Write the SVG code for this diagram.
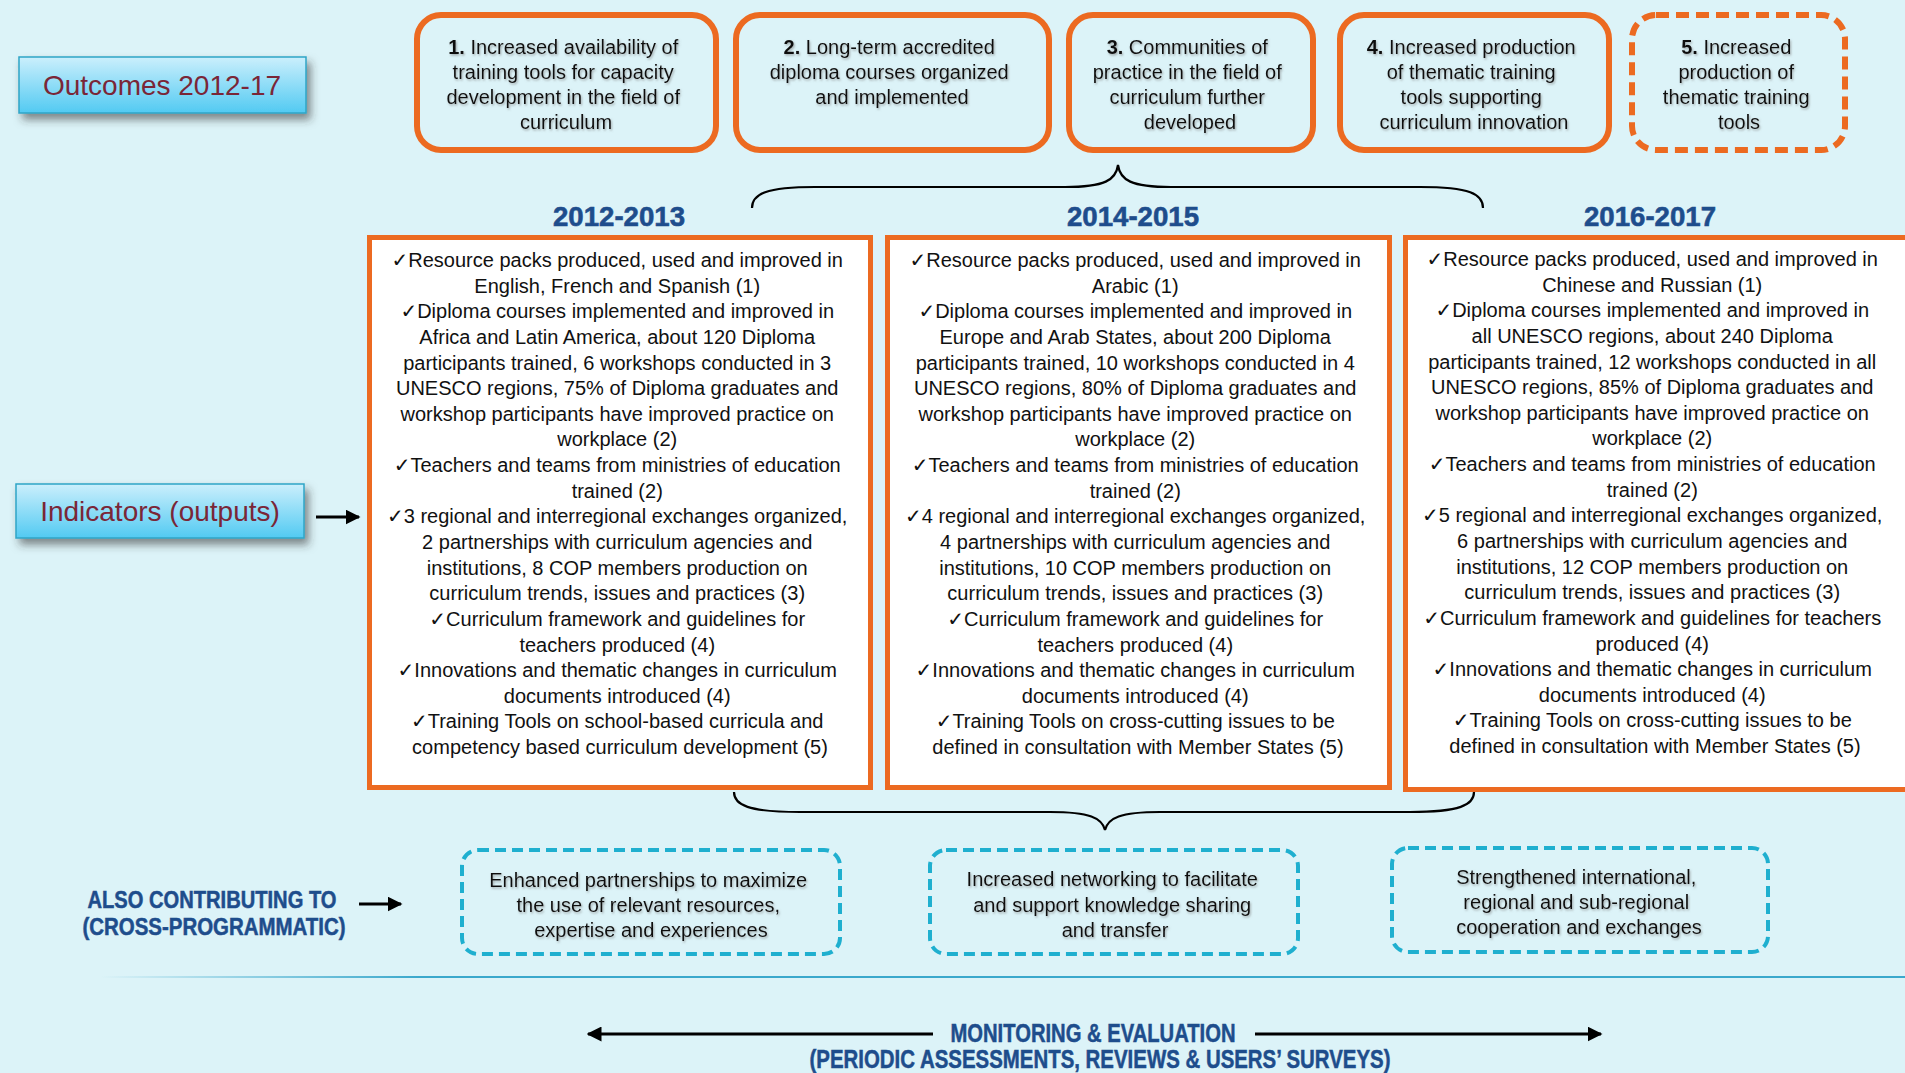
<svg xmlns="http://www.w3.org/2000/svg" width="1905" height="1073" viewBox="0 0 1905 1073">
<defs>
<style>
.bg{fill:#DCF3F8}
.lbl{fill:url(#lblGrad);stroke:#2FA5C6;stroke-width:1.5}
.lbltxt{font-family:"Liberation Sans",Arial,sans-serif;font-size:28px;fill:#7A2637;text-anchor:middle}
.out{fill:#DCF3F8;stroke:#EC6A21;stroke-width:6}
.outd{fill:#DCF3F8;stroke:#EC6A21;stroke-width:6;stroke-dasharray:13 7}
.otxt{font-family:"Liberation Sans",Arial,sans-serif;font-size:20px;fill:#111;text-anchor:middle}
.ind{fill:#FFFFFF;stroke:#EC6A21;stroke-width:5}
.itxt{font-family:"Liberation Sans","DejaVu Sans",Arial,sans-serif;font-size:20px;fill:#111;text-anchor:middle}
.year{font-family:"Liberation Sans",Arial,sans-serif;font-weight:bold;font-size:28px;fill:#1E4D8C;stroke:#1E4D8C;stroke-width:0.6;text-anchor:middle}
.head{font-family:"Liberation Sans",Arial,sans-serif;font-weight:bold;fill:#1E4D8C;stroke:#1E4D8C;stroke-width:0.5;text-anchor:middle}
.cross{fill:none;stroke:#1FAFCF;stroke-width:4;stroke-dasharray:11 6}
.ctxt{font-family:"Liberation Sans",Arial,sans-serif;font-size:20px;fill:#111;text-anchor:middle}
.brace{fill:none;stroke:#000;stroke-width:2.2}
.arr{fill:none;stroke:#000;stroke-width:3}
</style>
<linearGradient id="lblGrad" x1="0" y1="0" x2="0" y2="1">
<stop offset="0" stop-color="#CBEFFC"/>
<stop offset="1" stop-color="#52CAF2"/>
</linearGradient>
<linearGradient id="sepGrad" gradientUnits="userSpaceOnUse" x1="100" y1="0" x2="420" y2="0">
<stop offset="0" stop-color="#3BA8CC" stop-opacity="0"/>
<stop offset="1" stop-color="#3BA8CC" stop-opacity="1"/>
</linearGradient>
<filter id="shadow" x="-10%" y="-20%" width="125%" height="160%">
<feDropShadow dx="4" dy="6" stdDeviation="4" flood-color="#333" flood-opacity="0.55"/>
</filter>
<filter id="tshadow" x="-5%" y="-20%" width="110%" height="150%">
<feDropShadow dx="1" dy="1.5" stdDeviation="0.8" flood-color="#777" flood-opacity="0.6"/>
</filter>
<marker id="ah" viewBox="0 0 10 10" refX="9" refY="5" markerWidth="5" markerHeight="5" orient="auto-start-reverse" markerUnits="strokeWidth">
<path d="M0,0 L10,5 L0,10 z" fill="#000"/>
</marker>
</defs>

<rect class="bg" x="0" y="0" width="1905" height="1073"/>

<g id="label-outcomes">
<rect class="lbl" x="19" y="57" width="287" height="56" filter="url(#shadow)"/>
<text class="lbltxt" x="162" y="95">Outcomes 2012-17</text>
</g>

<g id="label-indicators">
<rect class="lbl" x="16" y="484" width="288" height="54" filter="url(#shadow)"/>
<text class="lbltxt" x="160" y="521">Indicators (outputs)</text>
</g>

<g id="outcome-1">
<rect class="out" x="417" y="15" width="299" height="135" rx="24"/>
<text class="otxt" filter="url(#tshadow)">
<tspan x="566" y="54"><tspan font-weight="bold">1.</tspan> Increased availability of</tspan>
<tspan x="566" y="79">training tools for capacity</tspan>
<tspan x="566" y="104">development in the field of</tspan>
<tspan x="566" y="129">curriculum</tspan>
</text>
</g>

<g id="outcome-2">
<rect class="out" x="736" y="15" width="313" height="135" rx="24"/>
<text class="otxt" filter="url(#tshadow)">
<tspan x="892" y="54"><tspan font-weight="bold">2.</tspan> Long-term accredited</tspan>
<tspan x="892" y="79">diploma courses organized</tspan>
<tspan x="892" y="104">and implemented</tspan>
</text>
</g>

<g id="outcome-3">
<rect class="out" x="1069" y="15" width="244" height="135" rx="24"/>
<text class="otxt" filter="url(#tshadow)">
<tspan x="1190" y="54"><tspan font-weight="bold">3.</tspan> Communities of</tspan>
<tspan x="1190" y="79">practice in the field of</tspan>
<tspan x="1190" y="104">curriculum further</tspan>
<tspan x="1190" y="129">developed</tspan>
</text>
</g>

<g id="outcome-4">
<rect class="out" x="1340" y="15" width="269" height="135" rx="24"/>
<text class="otxt" filter="url(#tshadow)">
<tspan x="1474" y="54"><tspan font-weight="bold">4.</tspan> Increased production</tspan>
<tspan x="1474" y="79">of thematic training</tspan>
<tspan x="1474" y="104">tools supporting</tspan>
<tspan x="1474" y="129">curriculum innovation</tspan>
</text>
</g>

<g id="outcome-5">
<rect class="outd" x="1632" y="15" width="213" height="135" rx="24"/>
<text class="otxt" filter="url(#tshadow)">
<tspan x="1739" y="54"><tspan font-weight="bold">5.</tspan> Increased</tspan>
<tspan x="1739" y="79">production of</tspan>
<tspan x="1739" y="104">thematic training</tspan>
<tspan x="1739" y="129">tools</tspan>
</text>
</g>

<g id="year-2012-2013">
<text class="year" x="619" y="226" textLength="132" lengthAdjust="spacingAndGlyphs">2012-2013</text>
</g>
<g id="year-2014-2015">
<text class="year" x="1133" y="226" textLength="132" lengthAdjust="spacingAndGlyphs">2014-2015</text>
</g>
<g id="year-2016-2017">
<text class="year" x="1650" y="226" textLength="132" lengthAdjust="spacingAndGlyphs">2016-2017</text>
</g>

<g id="indicators-2012-2013">
<rect class="ind" x="369.5" y="237.5" width="501" height="550"/>
<text class="itxt">
<tspan x="620" y="267">✓Resource packs produced, used and improved in</tspan>
<tspan x="620" y="292.6">English, French and Spanish (1)</tspan>
<tspan x="620" y="318.3">✓Diploma courses implemented and improved in</tspan>
<tspan x="620" y="343.9">Africa and Latin America, about 120 Diploma</tspan>
<tspan x="620" y="369.5">participants trained, 6 workshops conducted in 3</tspan>
<tspan x="620" y="395.2">UNESCO regions, 75% of Diploma graduates and</tspan>
<tspan x="620" y="420.8">workshop participants have improved practice on</tspan>
<tspan x="620" y="446.4">workplace (2)</tspan>
<tspan x="620" y="472">✓Teachers and teams from ministries of education</tspan>
<tspan x="620" y="497.7">trained (2)</tspan>
<tspan x="620" y="523.3">✓3 regional and interregional exchanges organized,</tspan>
<tspan x="620" y="548.9">2 partnerships with curriculum agencies and</tspan>
<tspan x="620" y="574.6">institutions, 8 COP members production on</tspan>
<tspan x="620" y="600.2">curriculum trends, issues and practices (3)</tspan>
<tspan x="620" y="625.8">✓Curriculum framework and guidelines for</tspan>
<tspan x="620" y="651.5">teachers produced (4)</tspan>
<tspan x="620" y="677.1">✓Innovations and thematic changes in curriculum</tspan>
<tspan x="620" y="702.7">documents introduced (4)</tspan>
<tspan x="620" y="728.3">✓Training Tools on school-based curricula and</tspan>
<tspan x="620" y="754">competency based curriculum development (5)</tspan>
</text>
</g>

<g id="indicators-2014-2015">
<rect class="ind" x="887.5" y="237.5" width="502" height="550"/>
<text class="itxt">
<tspan x="1138" y="267">✓Resource packs produced, used and improved in</tspan>
<tspan x="1138" y="292.6">Arabic (1)</tspan>
<tspan x="1138" y="318.3">✓Diploma courses implemented and improved in</tspan>
<tspan x="1138" y="343.9">Europe and Arab States, about 200 Diploma</tspan>
<tspan x="1138" y="369.5">participants trained, 10 workshops conducted in 4</tspan>
<tspan x="1138" y="395.2">UNESCO regions, 80% of Diploma graduates and</tspan>
<tspan x="1138" y="420.8">workshop participants have improved practice on</tspan>
<tspan x="1138" y="446.4">workplace (2)</tspan>
<tspan x="1138" y="472">✓Teachers and teams from ministries of education</tspan>
<tspan x="1138" y="497.7">trained (2)</tspan>
<tspan x="1138" y="523.3">✓4 regional and interregional exchanges organized,</tspan>
<tspan x="1138" y="548.9">4 partnerships with curriculum agencies and</tspan>
<tspan x="1138" y="574.6">institutions, 10 COP members production on</tspan>
<tspan x="1138" y="600.2">curriculum trends, issues and practices (3)</tspan>
<tspan x="1138" y="625.8">✓Curriculum framework and guidelines for</tspan>
<tspan x="1138" y="651.5">teachers produced (4)</tspan>
<tspan x="1138" y="677.1">✓Innovations and thematic changes in curriculum</tspan>
<tspan x="1138" y="702.7">documents introduced (4)</tspan>
<tspan x="1138" y="728.3">✓Training Tools on cross-cutting issues to be</tspan>
<tspan x="1138" y="754">defined in consultation with Member States (5)</tspan>
</text>
</g>

<g id="indicators-2016-2017">
<rect class="ind" x="1405.5" y="237.5" width="512" height="552"/>
<text class="itxt">
<tspan x="1655" y="266">✓Resource packs produced, used and improved in</tspan>
<tspan x="1655" y="291.6">Chinese and Russian (1)</tspan>
<tspan x="1655" y="317.3">✓Diploma courses implemented and improved in</tspan>
<tspan x="1655" y="342.9">all UNESCO regions, about 240 Diploma</tspan>
<tspan x="1655" y="368.5">participants trained, 12 workshops conducted in all</tspan>
<tspan x="1655" y="394.2">UNESCO regions, 85% of Diploma graduates and</tspan>
<tspan x="1655" y="419.8">workshop participants have improved practice on</tspan>
<tspan x="1655" y="445.4">workplace (2)</tspan>
<tspan x="1655" y="471">✓Teachers and teams from ministries of education</tspan>
<tspan x="1655" y="496.7">trained (2)</tspan>
<tspan x="1655" y="522.3">✓5 regional and interregional exchanges organized,</tspan>
<tspan x="1655" y="547.9">6 partnerships with curriculum agencies and</tspan>
<tspan x="1655" y="573.6">institutions, 12 COP members production on</tspan>
<tspan x="1655" y="599.2">curriculum trends, issues and practices (3)</tspan>
<tspan x="1655" y="624.8">✓Curriculum framework and guidelines for teachers</tspan>
<tspan x="1655" y="650.5">produced (4)</tspan>
<tspan x="1655" y="676.1">✓Innovations and thematic changes in curriculum</tspan>
<tspan x="1655" y="701.7">documents introduced (4)</tspan>
<tspan x="1655" y="727.3">✓Training Tools on cross-cutting issues to be</tspan>
<tspan x="1655" y="753">defined in consultation with Member States (5)</tspan>
</text>
</g>

<g id="also-contributing">
<text class="head" font-size="23" x="212" y="908" textLength="249" lengthAdjust="spacingAndGlyphs">ALSO CONTRIBUTING TO</text>
<text class="head" font-size="23" x="214" y="935" textLength="263" lengthAdjust="spacingAndGlyphs">(CROSS-PROGRAMMATIC)</text>
</g>

<g id="cross-1">
<rect class="cross" x="462" y="850" width="378" height="104" rx="16"/>
<text class="ctxt" filter="url(#tshadow)">
<tspan x="651" y="887">Enhanced partnerships to maximize</tspan>
<tspan x="651" y="912">the use of relevant resources,</tspan>
<tspan x="651" y="937">expertise and experiences</tspan>
</text>
</g>

<g id="cross-2">
<rect class="cross" x="930" y="850" width="368" height="104" rx="16"/>
<text class="ctxt" filter="url(#tshadow)">
<tspan x="1115" y="886">Increased networking to facilitate</tspan>
<tspan x="1115" y="912">and support knowledge sharing</tspan>
<tspan x="1115" y="937">and transfer</tspan>
</text>
</g>

<g id="cross-3">
<rect class="cross" x="1392" y="848" width="376" height="104" rx="16"/>
<text class="ctxt" filter="url(#tshadow)">
<tspan x="1579" y="884">Strengthened international,</tspan>
<tspan x="1579" y="909">regional and sub-regional</tspan>
<tspan x="1579" y="934">cooperation and exchanges</tspan>
</text>
</g>

<line x1="100" y1="977" x2="1905" y2="977" stroke="url(#sepGrad)" stroke-width="2"/>

<g id="monitoring">
<text class="head" font-size="25" x="1093" y="1042" textLength="285" lengthAdjust="spacingAndGlyphs">MONITORING &amp; EVALUATION</text>
<text class="head" font-size="25" x="1100" y="1068" textLength="581" lengthAdjust="spacingAndGlyphs">(PERIODIC ASSESSMENTS, REVIEWS &amp; USERS’ SURVEYS)</text>
</g>

<g id="connectors">
<path class="brace" d="M752,208 C752,194 766,187 815,187 L1065,187 C1105,187 1116,180 1118,165 C1120,180 1131,187 1171,187 L1420,187 C1470,187 1483,194 1483,208"/>
<path class="brace" d="M734,792 C734,805 748,812 800,812 L1050,812 C1090,812 1102,818 1105,830 C1108,818 1120,812 1160,812 L1410,812 C1460,812 1474,805 1474,792"/>
<line class="arr" x1="316" y1="517" x2="359" y2="517" marker-end="url(#ah)"/>
<line class="arr" x1="359" y1="904" x2="401" y2="904" marker-end="url(#ah)"/>
<line class="arr" x1="588" y1="1034" x2="933" y2="1034" marker-start="url(#ah)"/>
<line class="arr" x1="1255" y1="1034" x2="1601" y2="1034" marker-end="url(#ah)"/>
</g>
</svg>
